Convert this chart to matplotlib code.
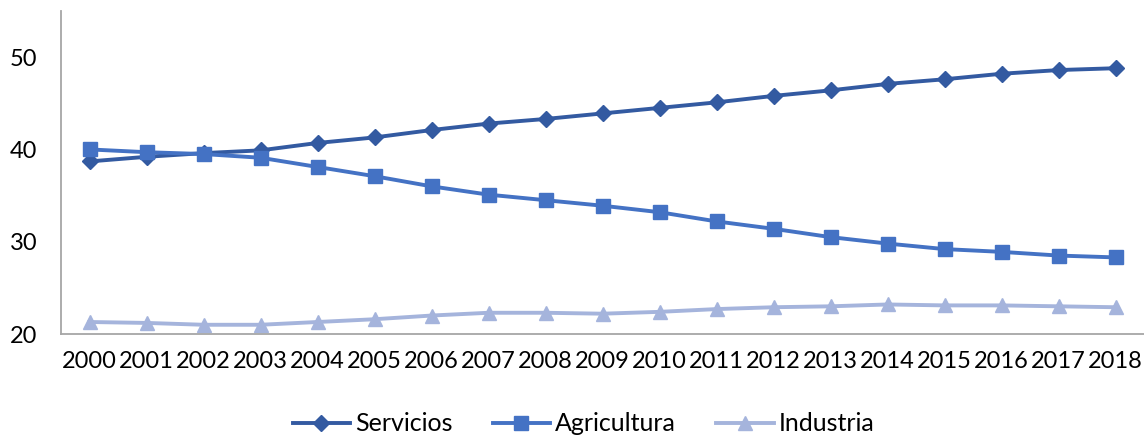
import numpy as np
import matplotlib.pyplot as plt

plt.rcParams['font.family'] = ['Lato', 'DejaVu Sans']

years = [str(y) for y in range(2000, 2019)]
servicios = [38.7, 39.2, 39.6, 39.9, 40.7, 41.3, 42.1, 42.8, 43.3, 43.9,
             44.5, 45.1, 45.8, 46.4, 47.1, 47.6, 48.2, 48.6, 48.8]
agricultura = [40.0, 39.7, 39.5, 39.1, 38.1, 37.1, 36.0, 35.1, 34.5, 33.9,
               33.2, 32.2, 31.4, 30.5, 29.8, 29.2, 28.9, 28.5, 28.3]
industria = [21.3, 21.2, 21.0, 21.0, 21.3, 21.6, 22.0, 22.3, 22.3, 22.2,
             22.4, 22.7, 22.9, 23.0, 23.2, 23.1, 23.1, 23.0, 22.9]

fig = plt.figure(figsize=(11.44, 4.36), dpi=100)
ax = fig.add_axes([61/1144, 102/436, 1 - 61/1144, 323/436])

x = np.arange(len(years))
ax.plot(x, servicios, color='#335AA1', lw=2.8, marker='D', ms=8, label='Servicios')
ax.plot(x, agricultura, color='#4472C4', lw=2.8, marker='s', ms=9.5, label='Agricultura')
ax.plot(x, industria, color='#A5B4DC', lw=2.8, marker='^', ms=10, label='Industria')

ax.set_xlim(-0.5, len(years) - 0.5)
ax.set_ylim(20, 55)
ax.set_yticks([20, 30, 40, 50])
ax.set_xticks(x)
ax.set_xticklabels(years)
ax.tick_params(axis='both', length=0, labelsize=17)
ax.tick_params(axis='y', pad=17)
ax.tick_params(axis='x', pad=12)
for s in ['top', 'right']:
    ax.spines[s].set_visible(False)
for s in ['left', 'bottom']:
    ax.spines[s].set_color('#A6A6A6')
    ax.spines[s].set_linewidth(1.3)

fig.legend(loc='lower center', ncol=3, bbox_to_anchor=(0.51, -0.05), frameon=False,
           fontsize=18, handlelength=2.3, columnspacing=1.6, handletextpad=0.2)

fig.savefig('out.png', dpi=100)
